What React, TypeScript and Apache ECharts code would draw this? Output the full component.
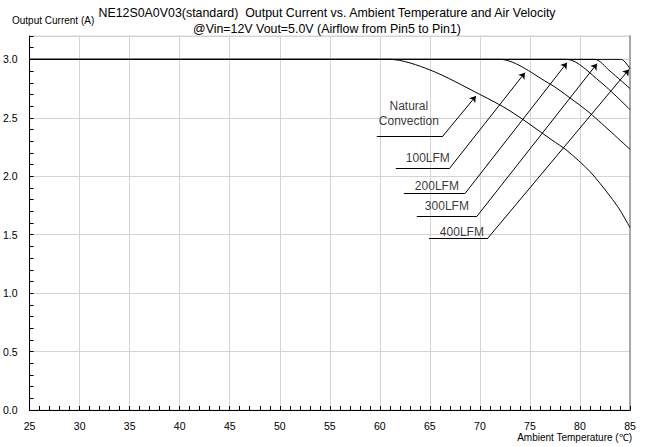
import React, { useEffect, useRef } from "react";
import * as echarts from "echarts";

// ---- data ----
const xTickLabels = [25, 30, 35, 40, 45, 50, 55, 60, 65, 70, 75, 80, 85];
const naturalConvection: [number, number][] = [
  [25, 3.0], [60, 3.0], [61, 3.0], [65, 2.91], [70, 2.70], [73, 2.56],
  [77.2, 2.31], [78.7, 2.22], [81, 2.04], [83, 1.83], [84, 1.71], [85, 1.56],
];
const lfm100: [number, number][] = [
  [25, 3.0], [71, 3.0], [72, 3.0], [77, 2.79], [79, 2.67], [81, 2.54], [85, 2.23],
];
const lfm200: [number, number][] = [
  [25, 3.0], [78, 3.0], [78.7, 3.0], [82, 2.81], [85, 2.57],
];
const lfm300: [number, number][] = [
  [25, 3.0], [81, 3.0], [81.5, 3.0], [83, 2.9], [85, 2.75],
];
const lfm400: [number, number][] = [
  [25, 3.0], [84, 3.0], [84.15, 3.0], [85, 2.92],
];
const curveNames = ["Natural Convection", "100LFM", "200LFM", "300LFM", "400LFM"];

const annotationLabels = ["Natural\nConvection", "100LFM", "200LFM", "300LFM", "400LFM"];
const labelPositions: [number, number][] = [
  [62.9, 2.535], [64.8, 2.157], [65.7, 1.917], [66.7, 1.747], [68.2, 1.52],
];
const leaderStarts: [number, number][] = [
  [59.7, 2.344], [61.6, 2.071], [62.4, 1.851], [63.7, 1.657], [64.9, 1.471],
];
const leaderBends: [number, number][] = [
  [66.3, 2.344], [67.0, 2.071], [68.5, 1.851], [69.7, 1.657], [70.8, 1.471],
];
const leaderTips: [number, number][] = [
  [69.6, 2.686], [74.5, 2.886], [78.7, 2.971], [81.7, 2.963], [84.9, 2.914],
];

const FONT = "'Liberation Sans', Arial, sans-serif";

export default function App() {
  const ref = useRef<HTMLDivElement>(null);
  useEffect(() => {
    if (!ref.current) return;
    const chart = echarts.init(ref.current, null, { renderer: "svg" });
    const curves = [naturalConvection, lfm100, lfm200, lfm300, lfm400];
    const option: any = {
      animation: false,
      backgroundColor: "#fff",
      textStyle: { fontFamily: FONT },
      grid: { left: 29, right: 15, top: 36, bottom: 37, show: true, borderColor: "#d4d4d4", borderWidth: 1 },
      xAxis: [
        {
          type: "value",
          min: xTickLabels[0],
          max: xTickLabels[xTickLabels.length - 1],
          interval: 5,
          axisLine: { show: true, onZero: false, lineStyle: { color: "#000", width: 1 } },
          axisTick: { show: true, inside: true, length: 4, lineStyle: { color: "#000" } },
          minorTick: { show: true, splitNumber: 5, length: 4, lineStyle: { color: "#000" } },
          splitLine: { show: true, lineStyle: { color: "#d4d4d4", width: 1 } },
          axisLabel: { color: "#000", fontSize: 10.5, margin: 10, fontFamily: FONT },
        },
      ],
      yAxis: [
        {
          type: "value",
          min: 0,
          max: 3.2,
          interval: 0.5,
          axisLine: { show: true, onZero: false, lineStyle: { color: "#000", width: 1 } },
          axisTick: { show: false },
          splitLine: { show: true, lineStyle: { color: "#d4d4d4", width: 1 } },
          axisLabel: {
            color: "#000", fontSize: 10.5, margin: 12, fontFamily: FONT, showMaxLabel: false,
            formatter: (v: number) => v.toFixed(1),
          },
        },
        {
          type: "value",
          position: "left",
          min: 0,
          max: 3.2,
          interval: 0.1,
          axisLine: { show: false },
          axisTick: { show: true, inside: true, length: 4, lineStyle: { color: "#000" } },
          splitLine: { show: false },
          axisLabel: { show: false },
        },
        {
          type: "value",
          position: "right",
          min: 0,
          max: 3.2,
          axisLine: { show: true, lineStyle: { color: "#a8a8a8", width: 2 } },
          axisTick: { show: false },
          splitLine: { show: false },
          axisLabel: { show: false },
        },
      ],
      graphic: [
        {
          type: "text", x: 327, y: 13,
          style: {
            text: "NE12S0A0V03(standard)  Output Current vs. Ambient Temperature and Air Velocity",
            fontSize: 12.4, fontFamily: FONT, fill: "#000", align: "center", verticalAlign: "middle",
          },
        },
        {
          type: "text", x: 327, y: 29,
          style: {
            text: "@Vin=12V Vout=5.0V (Airflow from Pin5 to Pin1)",
            fontSize: 12.4, fontFamily: FONT, fill: "#000", align: "center", verticalAlign: "middle",
          },
        },
        {
          type: "text", x: 12, y: 20,
          style: { text: "Output Current (A)", fontSize: 10, fontFamily: FONT, fill: "#000", align: "left", verticalAlign: "middle" },
        },
        {
          type: "text", x: 632, y: 437,
          style: { text: "Ambient Temperature (℃)", fontSize: 10, fontFamily: FONT, fill: "#000", align: "right", verticalAlign: "middle" },
        },
      ],
      series: [
        ...curves.map((d, i) => ({
          name: curveNames[i],
          type: "line",
          data: d,
          smooth: 0.3,
          showSymbol: false,
          symbol: "none",
          lineStyle: { color: "#000", width: 1 },
          z: 3,
        })),
        {
          name: "leaderBase",
          type: "lines",
          coordinateSystem: "cartesian2d",
          symbol: ["none", "none"],
          lineStyle: { color: "#000", width: 1, opacity: 1 },
          data: leaderStarts.map((s, i) => ({ coords: [s, leaderBends[i]] })),
          z: 4,
        },
        {
          name: "leaderArrow",
          type: "lines",
          coordinateSystem: "cartesian2d",
          symbol: ["none", "arrow"],
          symbolSize: 6,
          lineStyle: { color: "#000", width: 1, opacity: 1 },
          data: leaderBends.map((b, i) => ({ coords: [b, leaderTips[i]] })),
          z: 4,
        },
        {
          name: "labels",
          type: "scatter",
          symbolSize: 1,
          itemStyle: { color: "rgba(0,0,0,0)" },
          data: labelPositions.map((p, i) => ({ value: p, name: annotationLabels[i] })),
          label: {
            show: true,
            position: "inside",
            formatter: "{b}",
            color: "#000",
            fontSize: 12,
            lineHeight: 15,
            align: "center",
            fontFamily: FONT,
          },
          z: 5,
        },
      ],
    };
    chart.setOption(option);
    return () => chart.dispose();
  }, []);
  return (
    <div
      ref={ref}
      style={{ position: "fixed", left: 0, top: 0, width: 645, height: 447, background: "#fff" }}
    />
  );
}
